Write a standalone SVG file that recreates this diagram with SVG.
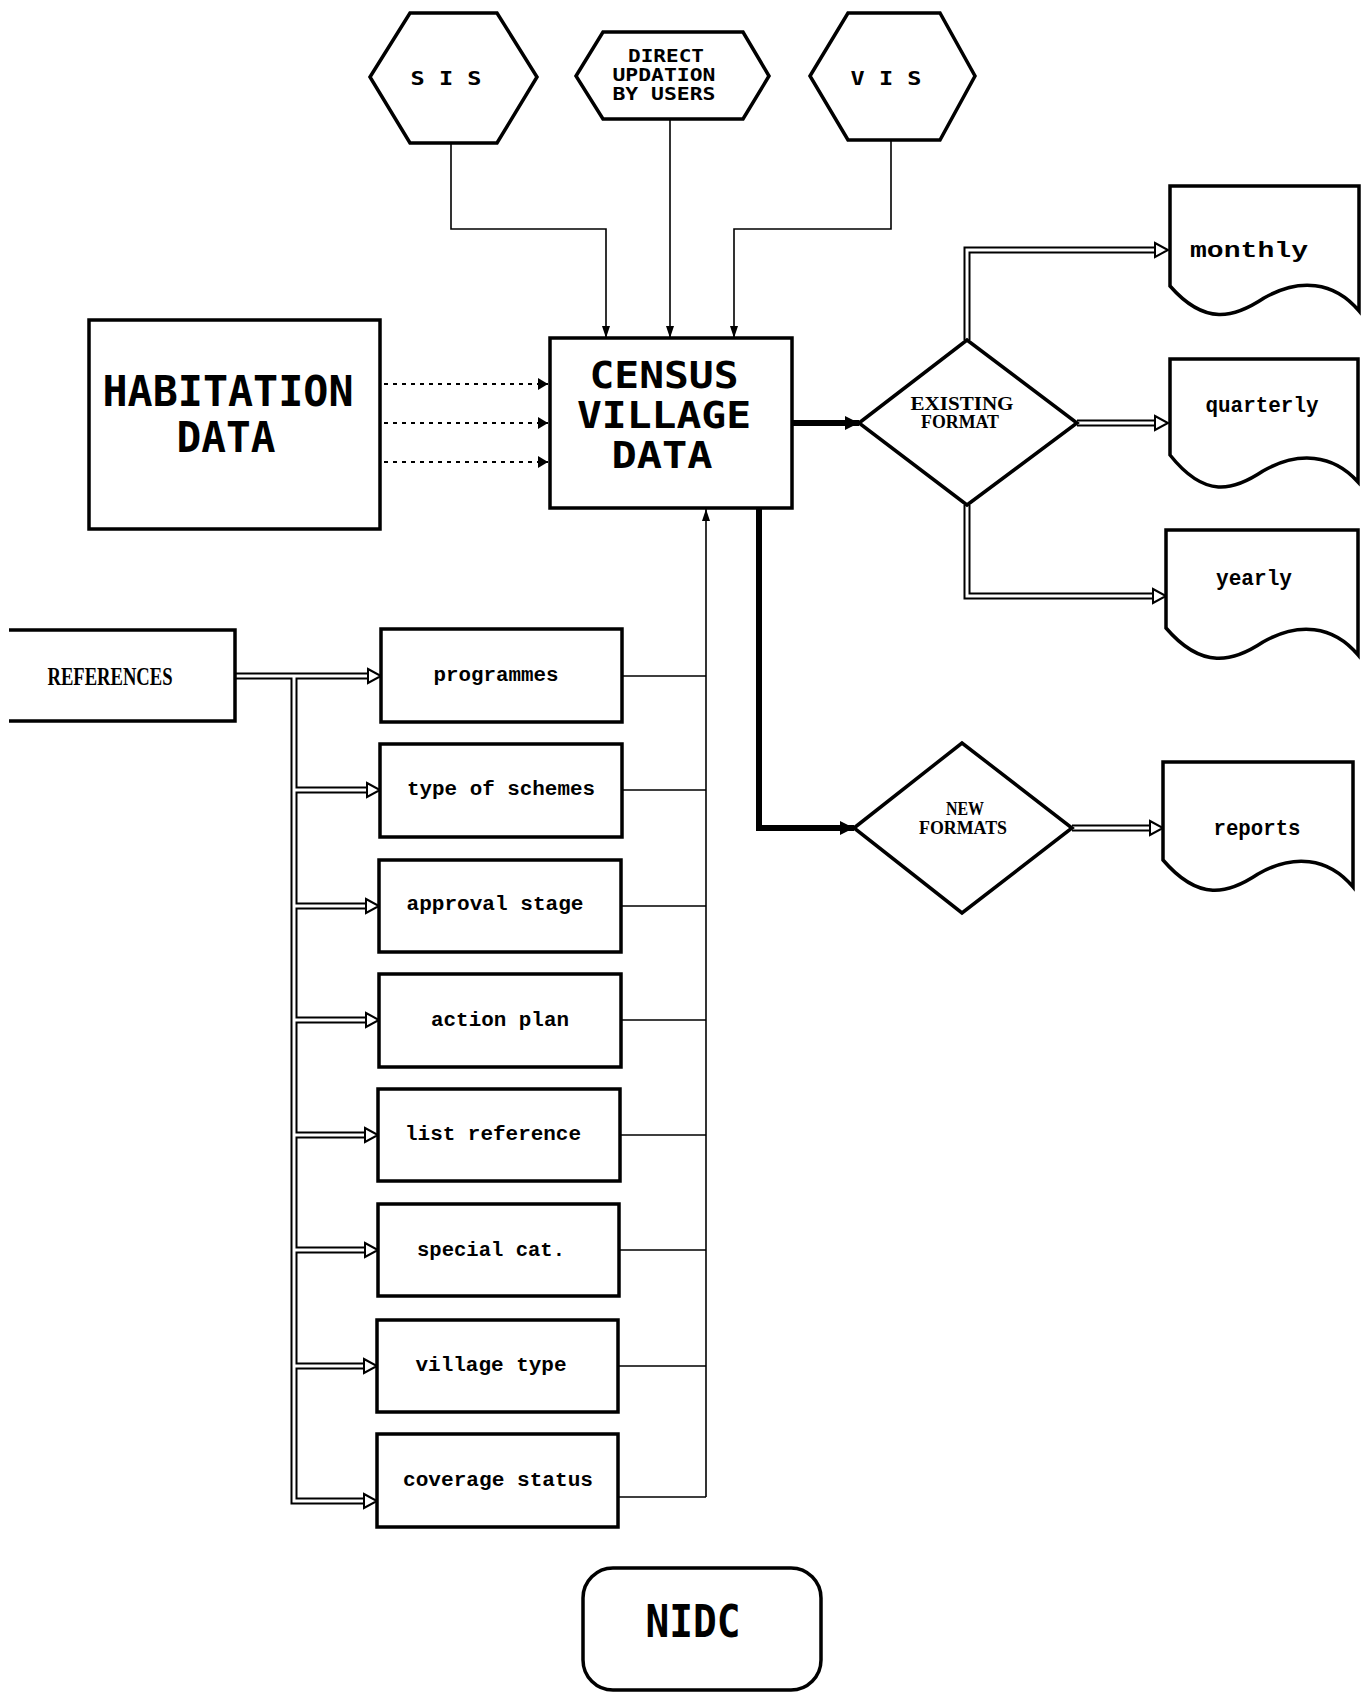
<svg xmlns="http://www.w3.org/2000/svg" width="1364" height="1693" viewBox="0 0 1364 1693">
<style>
.box{fill:#fff;stroke:#000;stroke-width:3.5}
.thin{fill:none;stroke:#000;stroke-width:1.6}
.thick{fill:none;stroke:#000;stroke-width:6}
.dot{fill:none;stroke:#000;stroke-width:2;stroke-dasharray:4 5}
.dblo{fill:none;stroke:#000;stroke-width:7}
.dbli{fill:none;stroke:#fff;stroke-width:3}
.hh{fill:#fff;stroke:#000;stroke-width:2;stroke-linejoin:miter}
.cap{font-family:"DejaVu Sans Mono",monospace;font-weight:bold;text-anchor:middle}
.ser{font-family:"Liberation Serif",serif;font-weight:bold;text-anchor:middle}
.low{font-family:"Liberation Mono",monospace;font-weight:bold;text-anchor:middle}
</style>
<defs>
<marker id="a" viewBox="0 0 12 8" refX="12" refY="4" markerWidth="12" markerHeight="8" markerUnits="userSpaceOnUse" orient="auto"><path d="M0,0 L12,4 L0,8 z"/></marker>
<marker id="b" viewBox="0 0 14 14" refX="14" refY="7" markerWidth="14" markerHeight="14" markerUnits="userSpaceOnUse" orient="auto"><path d="M0,0 L14,7 L0,14 z"/></marker>
<marker id="d" viewBox="0 0 10 12" refX="10" refY="6" markerWidth="10" markerHeight="12" markerUnits="userSpaceOnUse" orient="auto"><path d="M0,0 L10,6 L0,12 z"/></marker>
</defs>
<rect width="1364" height="1693" fill="#fff"/>

<g id="connectors">
<path class="thin" d="M451,143 V229 H606 V338" marker-end="url(#a)"/>
<path class="thin" d="M670,119 V338" marker-end="url(#a)"/>
<path class="thin" d="M891,140 V229 H734 V338" marker-end="url(#a)"/>
<path class="dot" d="M384,384 H548" marker-end="url(#d)"/>
<path class="dot" d="M384,423 H548" marker-end="url(#d)"/>
<path class="dot" d="M384,462 H548" marker-end="url(#d)"/>
<path class="thick" d="M792,423 H859" marker-end="url(#b)"/>
<path class="thick" d="M759,508 V828 H854" marker-end="url(#b)"/>
<path class="thin" d="M706,1497 V509" marker-end="url(#a)"/>
<path class="thin" d="M622,676 H706 M622,790 H706 M621,906 H706 M621,1020 H706 M620,1135 H706 M619,1250 H706 M618,1366 H706 M618,1497 H706"/>
<g class="dblo">
<path d="M967,340 V250 H1155"/>
<path d="M1077,423 H1155"/>
<path d="M967,505 V596 H1153"/>
<path d="M1072,828 H1150"/>
<path d="M235,676 H368"/>
<path d="M294,676 V1501 H364"/>
<path d="M294,790 H367 M294,906 H366 M294,1020 H366 M294,1135 H365 M294,1250 H365 M294,1366 H364"/>
</g>
<g class="dbli">
<path d="M967,340 V250 H1155"/>
<path d="M1077,423 H1155"/>
<path d="M967,505 V596 H1153"/>
<path d="M1072,828 H1150"/>
<path d="M235,676 H368"/>
<path d="M294,676 V1501 H364"/>
<path d="M294,790 H367 M294,906 H366 M294,1020 H366 M294,1135 H365 M294,1250 H365 M294,1366 H364"/>
</g>
<g class="hh">
<polygon points="1155,243 1168,250 1155,257"/>
<polygon points="1155,416 1168,423 1155,430"/>
<polygon points="1153,589 1166,596 1153,603"/>
<polygon points="1150,821 1163,828 1150,835"/>
<polygon points="368,669 381,676 368,683"/>
<polygon points="367,783 380,790 367,797"/>
<polygon points="366,899 379,906 366,913"/>
<polygon points="366,1013 379,1020 366,1027"/>
<polygon points="365,1128 378,1135 365,1142"/>
<polygon points="365,1243 378,1250 365,1257"/>
<polygon points="364,1359 377,1366 364,1373"/>
<polygon points="364,1494 377,1501 364,1508"/>
</g>
</g>

<g id="sis"><polygon class="box" points="370,77 410,13 497,13 537,77 497,143 410,143"/>
<text class="cap" x="446" y="85" font-size="20" textLength="71" lengthAdjust="spacingAndGlyphs">S I S</text></g>
<g id="direct"><polygon class="box" points="576,76 603,32 743,32 769,76 743,119 603,119"/>
<text class="cap" x="666" y="62" font-size="17" textLength="76" lengthAdjust="spacingAndGlyphs">DIRECT</text>
<text class="cap" x="664" y="81" font-size="17" textLength="103" lengthAdjust="spacingAndGlyphs">UPDATION</text>
<text class="cap" x="664" y="100" font-size="17" textLength="103" lengthAdjust="spacingAndGlyphs">BY USERS</text></g>
<g id="vis"><polygon class="box" points="810,76 848,13 940,13 975,76 940,140 848,140"/>
<text class="cap" x="886" y="85" font-size="20" textLength="71" lengthAdjust="spacingAndGlyphs">V I S</text></g>

<g id="habitation"><rect class="box" x="89" y="320" width="291" height="209"/>
<text class="cap" x="228" y="406" font-size="42" textLength="251" lengthAdjust="spacingAndGlyphs">HABITATION</text>
<text class="cap" x="226" y="452" font-size="42" textLength="99" lengthAdjust="spacingAndGlyphs">DATA</text></g>

<g id="census"><rect class="box" x="550" y="338" width="242" height="170"/>
<text class="cap" x="664" y="388" font-size="38" textLength="149" lengthAdjust="spacingAndGlyphs">CENSUS</text>
<text class="cap" x="664" y="428" font-size="38" textLength="174" lengthAdjust="spacingAndGlyphs">VILLAGE</text>
<text class="cap" x="662" y="468" font-size="38" textLength="101" lengthAdjust="spacingAndGlyphs">DATA</text></g>

<g id="existing"><polygon class="box" points="859,423 967,340 1077,423 967,505"/>
<text class="ser" x="962" y="410" font-size="18" textLength="103" lengthAdjust="spacingAndGlyphs">EXISTING</text>
<text class="ser" x="960" y="428" font-size="18" textLength="78" lengthAdjust="spacingAndGlyphs">FORMAT</text></g>

<g id="newformats"><polygon class="box" points="854,828 962,743 1072,828 962,913"/>
<text class="ser" x="965" y="815" font-size="18" textLength="38" lengthAdjust="spacingAndGlyphs">NEW</text>
<text class="ser" x="963" y="834" font-size="18" textLength="88" lengthAdjust="spacingAndGlyphs">FORMATS</text></g>

<g id="monthly"><path class="box" d="M1170,186 H1359 V311 C1334,281 1299,278 1264,298 C1234,318 1205,326 1170,286 Z"/>
<text class="low" x="1249" y="257" font-size="22" textLength="118" lengthAdjust="spacingAndGlyphs">monthly</text></g>
<g id="quarterly"><path class="box" d="M1170,359 H1358 V482 C1333,454 1298,451 1263,471 C1233,491 1205,499 1170,455 Z"/>
<text class="low" x="1262" y="412" font-size="22" textLength="113" lengthAdjust="spacingAndGlyphs">quarterly</text></g>
<g id="yearly"><path class="box" d="M1166,530 H1358 V655 C1333,625 1298,622 1263,642 C1233,662 1202,670 1166,628 Z"/>
<text class="low" x="1254" y="585" font-size="22" textLength="76" lengthAdjust="spacingAndGlyphs">yearly</text></g>
<g id="reports"><path class="box" d="M1163,762 H1353 V887 C1328,857 1293,854 1258,874 C1228,894 1199,902 1163,860 Z"/>
<text class="low" x="1257" y="835" font-size="22" textLength="87" lengthAdjust="spacingAndGlyphs">reports</text></g>

<g id="references"><path class="box" d="M9,630 H235 V721 H9" fill="#fff"/>
<text class="ser" x="110" y="685" font-size="25" textLength="125" lengthAdjust="spacingAndGlyphs">REFERENCES</text></g>

<g id="programmes"><rect class="box" x="381" y="629" width="241" height="93"/>
<text class="low" x="496" y="681" font-size="20" textLength="125" lengthAdjust="spacingAndGlyphs">programmes</text></g>
<g id="typeofschemes"><rect class="box" x="380" y="744" width="242" height="93"/>
<text class="low" x="501" y="795" font-size="20" textLength="188" lengthAdjust="spacingAndGlyphs">type of schemes</text></g>
<g id="approvalstage"><rect class="box" x="379" y="860" width="242" height="92"/>
<text class="low" x="495" y="910" font-size="20" textLength="177" lengthAdjust="spacingAndGlyphs">approval stage</text></g>
<g id="actionplan"><rect class="box" x="379" y="974" width="242" height="93"/>
<text class="low" x="500" y="1026" font-size="20" textLength="138" lengthAdjust="spacingAndGlyphs">action plan</text></g>
<g id="listreference"><rect class="box" x="378" y="1089" width="242" height="92"/>
<text class="low" x="493" y="1140" font-size="20" textLength="176" lengthAdjust="spacingAndGlyphs">list reference</text></g>
<g id="specialcat"><rect class="box" x="378" y="1204" width="241" height="92"/>
<text class="low" x="491" y="1256" font-size="20" textLength="148" lengthAdjust="spacingAndGlyphs">special cat.</text></g>
<g id="villagetype"><rect class="box" x="377" y="1320" width="241" height="92"/>
<text class="low" x="491" y="1371" font-size="20" textLength="151" lengthAdjust="spacingAndGlyphs">village type</text></g>
<g id="coveragestatus"><rect class="box" x="377" y="1434" width="241" height="93"/>
<text class="low" x="498" y="1486" font-size="20" textLength="190" lengthAdjust="spacingAndGlyphs">coverage status</text></g>

<g id="nidc"><rect class="box" x="583" y="1568" width="238" height="122" rx="30"/>
<text class="cap" x="693" y="1637" font-size="44" textLength="95" lengthAdjust="spacingAndGlyphs">NIDC</text></g>
</svg>
